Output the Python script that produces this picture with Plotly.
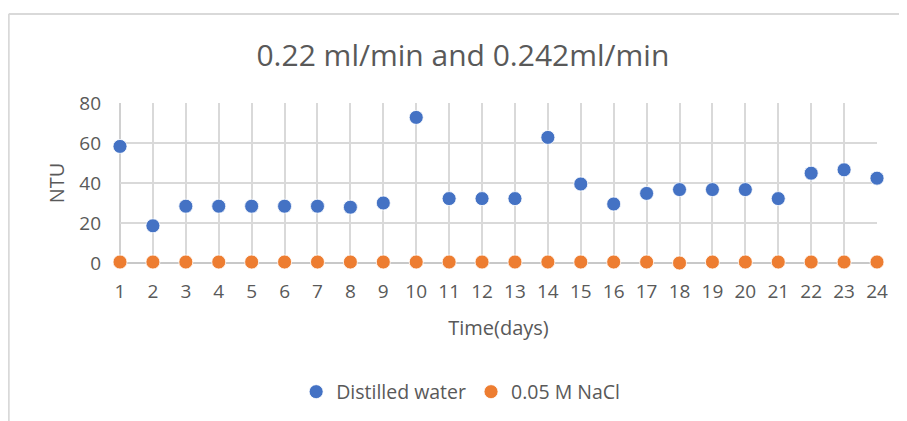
import plotly.graph_objects as go

# Datos
dias = list(range(1, 25))
agua_destilada = [58.3, 18.6, 28.4, 28.4, 28.4, 28.4, 28.4, 27.9, 30.0, 72.8,
                  32.2, 32.2, 32.2, 62.8, 39.5, 29.5, 34.8, 36.7, 36.7, 36.7,
                  32.2, 44.9, 46.6, 42.4]
nacl_005 = [0.5, 0.5, 0.5, 0.5, 0.5, 0.5, 0.5, 0.5, 0.5, 0.5,
            0.5, 0.5, 0.5, 0.5, 0.5, 0.5, 0.5, 0.0, 0.5, 0.5,
            0.5, 0.5, 0.5, 0.5]
y_ticks = [0, 20, 40, 60, 80]

gris = "#595959"
fuente = "Open Sans"

fig = go.Figure()

fig.add_trace(
    go.Scatter(
        x=dias, y=agua_destilada, mode="markers", name="Distilled water",
        marker=dict(color="#4472C4", size=14, line=dict(color="white", width=0.8)),
        cliponaxis=False,
    )
)
fig.add_trace(
    go.Scatter(
        x=dias, y=nacl_005, mode="markers", name="0.05 M NaCl",
        marker=dict(color="#ED7D31", size=14, line=dict(color="white", width=0.8)),
        cliponaxis=False,
    )
)

# la pagina tiene 8px de margen en el body, por eso 899x413
fig.update_layout(
    width=899, height=413,
    margin=dict(l=112, r=30, t=95, b=157),
    plot_bgcolor="white", paper_bgcolor="white",
    font=dict(family=fuente, color=gris, size=19),
    title=dict(text="0.22 ml/min and 0.242ml/min", x=0.506, xanchor="center",
               y=0.886, yanchor="middle", font=dict(size=30, color=gris)),
    legend=dict(orientation="h", x=0.45, xanchor="center", y=-0.795, yanchor="middle",
                font=dict(size=19.5, color=gris), itemwidth=30, tracegroupgap=0),
    showlegend=True,
)

fig.update_xaxes(
    range=[1, 24], tickmode="array", tickvals=dias, ticktext=[str(d) for d in dias],
    showgrid=True, gridcolor="#d9d9d9", gridwidth=1.5,
    showline=False, zeroline=False, ticks="", ticklabelstandoff=15,
    title=dict(text="Time(days)", font=dict(size=20, color=gris), standoff=17),
)
fig.update_yaxes(
    range=[0, 80], tickmode="array", tickvals=y_ticks,
    showgrid=True, gridcolor="#d9d9d9", gridwidth=1.5,
    showline=False, zeroline=False, ticks="", ticklabelstandoff=18,
    title=dict(text="NTU", font=dict(size=20, color=gris), standoff=9),
)

# linea base del eje x y linea del eje y
fig.add_shape(type="line", xref="x domain", yref="y domain", x0=0, x1=1, y0=0, y1=0,
              line=dict(color="#c8c8c8", width=2), layer="below")
fig.add_shape(type="line", xref="x domain", yref="y domain", x0=0, x1=0, y0=0, y1=1,
              line=dict(color="#d0d0d0", width=2), layer="below")

# marco exterior (solo arriba e izquierda visibles)
fig.add_shape(type="line", xref="paper", yref="paper", x0=-0.147, x1=1.04, y0=1.556, y1=1.556,
              line=dict(color="#d9d9d9", width=2))
fig.add_shape(type="line", xref="paper", yref="paper", x0=-0.147, x1=-0.147, y0=1.556, y1=-1.0,
              line=dict(color="#d9d9d9", width=2))

fig.write_html("out.html")
